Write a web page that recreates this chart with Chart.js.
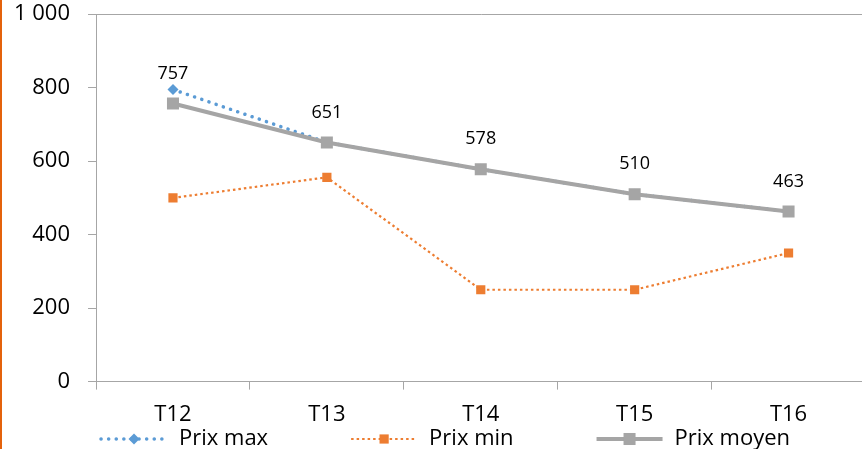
<!DOCTYPE html>
<html>
<head>
<meta charset="utf-8">
<script src="https://cdn.jsdelivr.net/npm/chart.js@4/dist/chart.umd.min.js"></script>
<style>
  html, body { margin: 0; padding: 0; background: #fff; overflow: hidden; width: 862px; height: 449px; }
  #c { position: absolute; left: 0; top: -17px; }
  #edge { position: absolute; left: 0; top: 0; width: 2px; height: 449px; background: #E4620C; z-index: 2; }
</style>
</head>
<body>
<div id="edge"></div>
<canvas id="c" width="874" height="466"></canvas>
<script>
const categories = ["T12", "T13", "T14", "T15", "T16"];
const prixMax = [795, 651, 578, 510, 463];
const prixMin = [500, 556, 250, 250, 350];
const prixMoyen = [757, 651, 578, 510, 463];
const seriesNames = ["Prix max", "Prix min", "Prix moyen"];
const yTicks = [0, 200, 400, 600, 800, 1000];

const BLUE = '#5B9BD5', ORANGE = '#ED7D31', GRAY = '#A5A5A5', AXIS = '#A6A6A6';
const FONT = '"Open Sans", Lato, sans-serif';
const SAMPLE = 66, TEXTGAP = 12, ITEMGAP = 83, LEGEND_X = 101;

const styles = [
  { color: BLUE, width: 3.5, dash: [0.1, 7.5], cap: 'round', point: 'rectRot', r: 5.5 },
  { color: ORANGE, width: 2.2, dash: [2.5, 3], cap: 'butt', point: 'rect', r: 6.5 },
  { color: GRAY, width: 4, dash: [], cap: 'butt', point: 'rect', r: 8.5 }
];

function fmt(v) { return v >= 1000 ? String(v).replace(/\B(?=(\d{3})+(?!\d))/g, ' ') : String(v); }

const dataLabels = {
  id: 'dataLabels',
  afterDatasetsDraw(chart) {
    const meta = chart.getDatasetMeta(2);
    const ctx = chart.ctx;
    ctx.save();
    ctx.font = '18px ' + FONT;
    ctx.fillStyle = '#000';
    ctx.textAlign = 'center';
    ctx.textBaseline = 'middle';
    meta.data.forEach((pt, i) => {
      ctx.fillText(String(prixMoyen[i]), pt.x, pt.y - 30);
    });
    ctx.restore();
  }
};

function drawSample(ctx, s, x0, y) {
  const x1 = x0 + SAMPLE;
  ctx.save();
  ctx.strokeStyle = s.color;
  ctx.lineWidth = s.width;
  ctx.lineCap = s.cap;
  ctx.setLineDash(s.dash);
  ctx.beginPath();
  ctx.moveTo(x0, y);
  ctx.lineTo(x1, y);
  ctx.stroke();
  ctx.setLineDash([]);
  ctx.fillStyle = s.color;
  const cx = (x0 + x1) / 2;
  if (s.point === 'rectRot') {
    ctx.beginPath();
    ctx.moveTo(cx, y - s.r); ctx.lineTo(cx + s.r, y); ctx.lineTo(cx, y + s.r); ctx.lineTo(cx - s.r, y);
    ctx.closePath(); ctx.fill();
  } else {
    const h = s.r * Math.SQRT1_2;
    ctx.fillRect(cx - h, y - h, 2 * h, 2 * h);
  }
  ctx.restore();
}

const customLegend = {
  id: 'customLegend',
  afterDraw(chart) {
    const ctx = chart.ctx;
    const y = chart.scales.x.bottom - 1;
    ctx.save();
    ctx.font = '22px ' + FONT;
    ctx.fillStyle = '#000';
    ctx.textBaseline = 'middle';
    ctx.textAlign = 'left';
    let x = LEGEND_X;
    seriesNames.forEach((n, i) => {
      drawSample(ctx, styles[i], x, y);
      const tx = x + SAMPLE + TEXTGAP;
      ctx.fillText(n, tx, y);
      x = tx + ctx.measureText(n).width + ITEMGAP;
    });
    ctx.restore();
  }
};

const seriesData = [prixMax, prixMin, prixMoyen];
const datasets = seriesData.map((d, i) => ({
  label: seriesNames[i],
  data: d,
  borderColor: styles[i].color,
  backgroundColor: styles[i].color,
  borderWidth: styles[i].width,
  borderDash: styles[i].dash,
  borderCapStyle: styles[i].cap,
  pointStyle: styles[i].point,
  pointRadius: styles[i].r,
  pointBorderWidth: 0,
  pointBackgroundColor: styles[i].color,
  tension: 0,
  fill: false,
  order: [2, 1, 0][i]
}));

new Chart(document.getElementById('c'), {
  type: 'line',
  data: { labels: categories, datasets },
  options: {
    responsive: false,
    maintainAspectRatio: false,
    animation: false,
    layout: { padding: { left: -4, right: 0, top: -14, bottom: 9 } },
    plugins: {
      tooltip: { enabled: false },
      title: { display: false },
      legend: { display: false }
    },
    scales: {
      x: {
        offset: true,
        grid: { offset: true, drawOnChartArea: false, color: AXIS, tickColor: AXIS, tickLength: 8 },
        border: { color: AXIS, width: 1 },
        ticks: { font: { family: FONT, size: 22 }, color: '#000', padding: 12 }
      },
      y: {
        min: 0, max: 1000,
        afterBuildTicks(scale) { scale.ticks = yTicks.map(v => ({ value: v })); },
        grid: {
          color: ctx => (ctx.tick && ctx.tick.value === 1000) ? AXIS : 'rgba(0,0,0,0)',
          tickColor: AXIS, tickLength: 8
        },
        border: { color: AXIS, width: 1 },
        ticks: { font: { family: FONT, size: 22 }, color: '#000', padding: 18, callback: v => fmt(v) }
      }
    }
  },
  plugins: [dataLabels, customLegend]
});
</script>
</body>
</html>
